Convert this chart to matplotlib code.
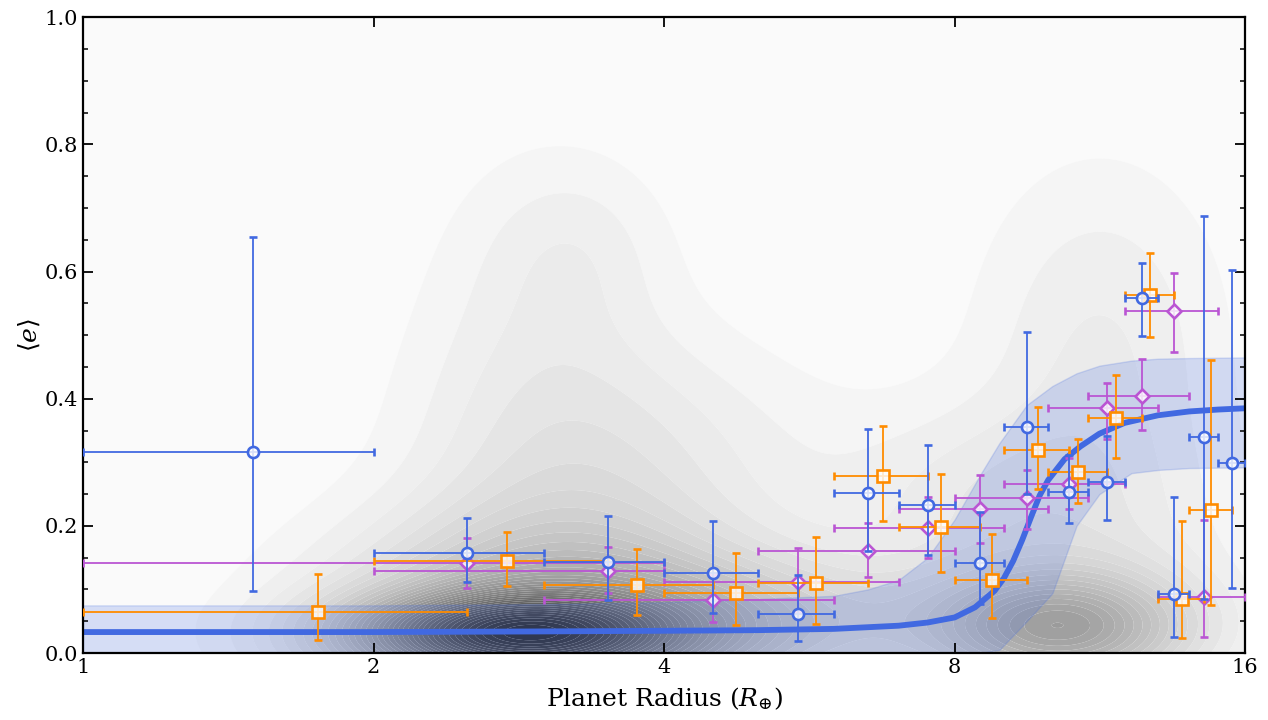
import numpy as np
import matplotlib
matplotlib.use("Agg")
import matplotlib.pyplot as plt
from matplotlib.colors import LinearSegmentedColormap
from matplotlib.ticker import NullLocator, MultipleLocator, FixedLocator

plt.rcParams['font.family'] = ['DejaVu Serif']
plt.rcParams['mathtext.fontset'] = 'dejavuserif'

# ---------------- data ----------------
# blue circles
blue_x = [1.5, 2.5, 3.5, 4.5, 5.5, 6.5, 7.5, 8.5, 9.5, 10.5, 11.5, 12.5, 13.5, 14.5, 15.5]
blue_xlo = [1, 2, 3, 4, 5, 6, 7, 8, 9, 10, 11, 12, 13, 14, 15]
blue_xhi = [2, 3, 4, 5, 6, 7, 8, 9, 10, 11, 12, 13, 14, 15, 16]
blue_y = [0.316, 0.157, 0.143, 0.126, 0.061, 0.251, 0.233, 0.141, 0.355, 0.253, 0.269, 0.558, 0.093, 0.340, 0.299]
blue_ylo = [0.098, 0.111, 0.083, 0.063, 0.019, 0.160, 0.154, 0.077, 0.250, 0.204, 0.210, 0.498, 0.025, 0.085, 0.102]
blue_yhi = [0.655, 0.212, 0.215, 0.208, 0.122, 0.352, 0.328, 0.222, 0.505, 0.311, 0.341, 0.613, 0.245, 0.688, 0.602]

# orange squares
orange_x = [1.75, 2.75, 3.75, 4.75, 5.75, 6.75, 7.75, 8.75, 9.75, 10.75, 11.75, 12.75, 13.75, 14.75]
orange_xlo = [1, 2, 3, 4, 5, 6, 7, 8, 9, 10, 11, 12, 13, 14]
orange_xhi = [2.5, 3.5, 4.5, 5.5, 6.5, 7.5, 8.5, 9.5, 10.5, 11.5, 12.5, 13.5, 14.5, 15.5]
orange_y = [0.064, 0.145, 0.107, 0.094, 0.110, 0.278, 0.198, 0.115, 0.319, 0.285, 0.370, 0.563, 0.085, 0.225]
orange_ylo = [0.020, 0.106, 0.060, 0.044, 0.046, 0.208, 0.128, 0.055, 0.258, 0.236, 0.307, 0.497, 0.024, 0.075]
orange_yhi = [0.124, 0.190, 0.164, 0.157, 0.183, 0.357, 0.281, 0.187, 0.387, 0.337, 0.437, 0.629, 0.208, 0.461]

# purple diamonds
purple_x = [2.5, 3.5, 4.5, 5.5, 6.5, 7.5, 8.5, 9.5, 10.5, 11.5, 12.5, 13.5, 14.5]
purple_xlo = [1, 2, 3, 4, 5, 6, 7, 8, 9, 10, 11, 12, 13]
purple_xhi = [4, 4, 6, 7, 8, 9, 10, 11, 12, 13, 14, 15, 16]
purple_y = [0.141, 0.129, 0.084, 0.111, 0.161, 0.197, 0.226, 0.244, 0.266, 0.385, 0.404, 0.538, 0.088]
purple_ylo = [0.103, 0.094, 0.049, 0.065, 0.119, 0.150, 0.173, 0.195, 0.226, 0.336, 0.351, 0.473, 0.026]
purple_yhi = [0.181, 0.167, 0.122, 0.165, 0.205, 0.245, 0.280, 0.288, 0.306, 0.425, 0.463, 0.598, 0.209]

# model curve and its band
curve_x = [1, 2, 3, 4, 5, 6, 7, 7.5, 8, 8.4, 8.8, 9.0, 9.2, 9.4, 9.6, 9.8, 10.0, 10.4, 10.8, 11.3, 12, 13, 14, 15, 16]
curve_y = [0.033, 0.033, 0.034, 0.035, 0.036, 0.038, 0.043, 0.048, 0.056, 0.072, 0.098, 0.118, 0.145, 0.178, 0.214,
           0.248, 0.272, 0.305, 0.325, 0.345, 0.362, 0.374, 0.380, 0.383, 0.385]
band_x = [1, 2, 3, 4, 5, 6, 6.5, 7, 7.5, 8, 8.5, 8.9, 9.5, 10.1, 10.7, 11.3, 12.2, 13, 14, 16]
band_lo = [0, 0, 0, 0, 0, 0, 0, 0, 0, 0, 0, 0.005, 0.05, 0.094, 0.20, 0.25, 0.283, 0.288, 0.291, 0.292]
band_hi = [0.075, 0.075, 0.077, 0.080, 0.085, 0.090, 0.100, 0.115, 0.150, 0.210, 0.280, 0.330, 0.390, 0.420,
           0.440, 0.452, 0.460, 0.463, 0.464, 0.465]

# background density: gaussian components in (log2 radius, e)
kde_u0 = [1.48, 1.60, 1.70, 2.35, 3.36, 3.45, 1.55, 2.00, 3.50, 3.05, 1.70]
kde_e0 = [0.030, 0.050, 0.080, 0.050, 0.040, 0.100, 0.450, 0.330, 0.480, 0.250, 0.640]
kde_su = [0.38, 0.50, 0.40, 0.45, 0.30, 0.40, 0.30, 0.45, 0.30, 0.35, 0.22]
kde_se = [0.045, 0.11, 0.25, 0.07, 0.06, 0.15, 0.22, 0.12, 0.20, 0.10, 0.10]
kde_w = [0.65, 0.30, 0.09, 0.15, 0.38, 0.08, 0.05, 0.05, 0.08, 0.06, 0.04]

# ---------------- figure ----------------
fig = plt.figure(figsize=(12.68, 7.2), dpi=100)
ax = fig.add_axes([0.0655, 0.093, 0.9165, 0.883])
ax.set_xscale('log', base=2)

uu = np.linspace(0, 4, 500)
ee = np.linspace(0, 1, 400)
U, E = np.meshgrid(uu, ee)
Z = np.zeros_like(U)
for u0, e0, su, se, w in zip(kde_u0, kde_e0, kde_su, kde_se, kde_w):
    Z += w * np.exp(-0.5 * ((U - u0) / su) ** 2 - 0.5 * ((E - e0) / se) ** 2)
nlev = 40
levels = np.linspace(0, Z.max() * 1.001, nlev + 1)
gcm = LinearSegmentedColormap.from_list('g', ['#fafafa', '#2c2c2c'])
fill_colors = [gcm(i / (nlev - 1)) for i in range(nlev)]
ax.contourf(2 ** U, E, Z, levels=levels, colors=fill_colors, zorder=0, antialiased=True)

blue = '#4169e1'
orange = '#ff8c00'
purple = '#ba55d3'

ax.fill_between(band_x, band_lo, band_hi, color=blue, alpha=0.2, lw=1, zorder=1)
ax.plot(curve_x, curve_y, color=blue, lw=4.2, zorder=2, solid_capstyle='butt')


def draw(xs, xlo, xhi, ys, ylo, yhi, color, marker, ms, z):
    xs = np.array(xs); ys = np.array(ys)
    xerr = [xs - np.array(xlo), np.array(xhi) - xs]
    yerr = [ys - np.array(ylo), np.array(yhi) - ys]
    ax.errorbar(xs, ys, xerr=xerr, yerr=yerr, fmt=marker, color=color, ecolor=color,
                elinewidth=1.3, capsize=3.2, capthick=1.6, ms=ms, mew=1.9,
                mfc=(1, 1, 1, 0.8), mec=color, zorder=z)


draw(purple_x, purple_xlo, purple_xhi, purple_y, purple_ylo, purple_yhi, purple, 'D', 7.5, 3)
draw(orange_x, orange_xlo, orange_xhi, orange_y, orange_ylo, orange_yhi, orange, 's', 8, 4)
draw(blue_x, blue_xlo, blue_xhi, blue_y, blue_ylo, blue_yhi, blue, 'o', 8, 5)

ax.set_xlim(1, 16)
ax.set_ylim(0, 1)
ax.xaxis.set_major_locator(FixedLocator([1, 2, 4, 8, 16]))
ax.set_xticklabels(['1', '2', '4', '8', '16'])
ax.xaxis.set_minor_locator(NullLocator())
ax.yaxis.set_major_locator(MultipleLocator(0.2))
ax.yaxis.set_minor_locator(MultipleLocator(0.05))
ax.tick_params(which='both', direction='in', top=True, right=True, labelsize=15)
ax.tick_params(which='major', length=7, width=1.3)
ax.tick_params(which='minor', length=3.5, width=1.1)
for s in ax.spines.values():
    s.set_linewidth(1.6)

ax.set_xlabel(r'Planet Radius ($R_{\oplus}$)', fontsize=18, labelpad=6)
ax.set_ylabel(r'$\langle e\rangle$', fontsize=18, labelpad=2)

fig.savefig('out.png', dpi=100)
